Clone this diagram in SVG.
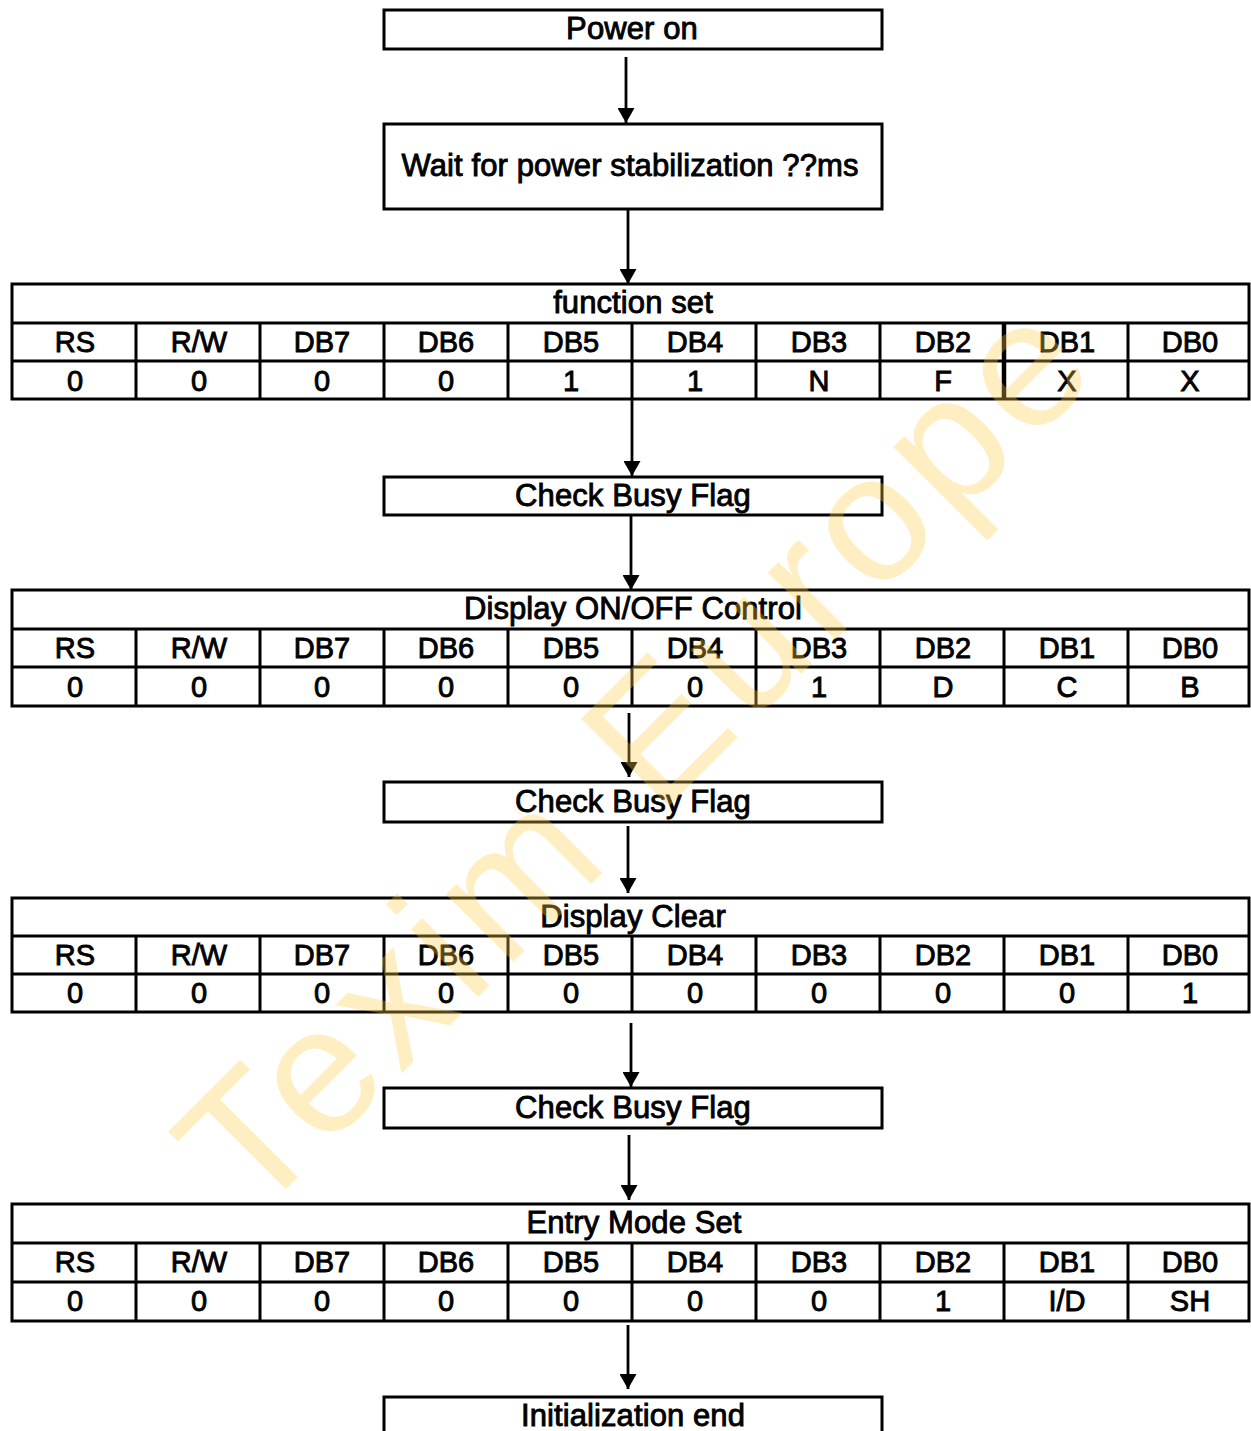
<svg xmlns="http://www.w3.org/2000/svg" width="1251" height="1431" viewBox="0 0 1251 1431">
<style>
.box{fill:#fff;stroke:#000;stroke-width:3}
.ln{stroke:#000;stroke-width:3;fill:none}
.t{font-family:"Liberation Sans",Arial,sans-serif;font-size:31px;fill:#000;text-anchor:middle;stroke:#000;stroke-width:0.9;letter-spacing:0.1px}
.c{font-family:"Liberation Sans",Arial,sans-serif;font-size:29px;fill:#000;text-anchor:middle;stroke:#000;stroke-width:0.9}
.conn{stroke:#000;stroke-width:2.8;fill:none}
.wm{font-family:"Liberation Sans",Arial,sans-serif;font-size:180px;fill:#FFCC44;fill-opacity:0.33}
</style>
<defs>
<marker id="ah" viewBox="0 0 15 17" refX="15" refY="8.5" markerWidth="15" markerHeight="17" markerUnits="userSpaceOnUse" orient="auto">
<path d="M0,0 L15,8.5 L0,17 Z" fill="#000"/>
</marker>
</defs>
<rect width="1251" height="1431" fill="#fff"/>

<g id="connectors">
<line class="conn" x1="626" y1="57" x2="626" y2="123" marker-end="url(#ah)"/>
<line class="conn" x1="628" y1="209" x2="628" y2="284" marker-end="url(#ah)"/>
<line class="conn" x1="632" y1="399" x2="632" y2="476" marker-end="url(#ah)"/>
<line class="conn" x1="631" y1="515" x2="631" y2="590" marker-end="url(#ah)"/>
<line class="conn" x1="629" y1="713" x2="629" y2="777" marker-end="url(#ah)"/>
<line class="conn" x1="628" y1="826" x2="628" y2="893" marker-end="url(#ah)"/>
<line class="conn" x1="631" y1="1023" x2="631" y2="1087" marker-end="url(#ah)"/>
<line class="conn" x1="629" y1="1135" x2="629" y2="1200" marker-end="url(#ah)"/>
<line class="conn" x1="628" y1="1325" x2="628" y2="1389" marker-end="url(#ah)"/>
</g>

<g id="power-on">
<rect class="box" x="384" y="10" width="498" height="39"/>
<text class="t" x="632" y="39">Power on</text>
</g>

<g id="wait-power">
<rect class="box" x="384" y="124" width="498" height="85"/>
<text class="t" x="630" y="176">Wait for power stabilization ??ms</text>
</g>

<g id="function-set">
<rect class="box" x="12" y="284" width="1237" height="115"/>
<path class="ln" d="M12,323 H1249 M12,361 H1249 M136,323 V399 M260,323 V399 M384,323 V399 M508,323 V399 M632,323 V399 M756,323 V399 M880,323 V399 M1128,323 V399"/>
<path class="ln" style="stroke-width:4.5" d="M1004,323 V399"/>
<text class="t" x="633" y="313">function set</text>
<text class="c" y="352"><tspan x="75">RS</tspan><tspan x="199">R/W</tspan><tspan x="322">DB7</tspan><tspan x="446">DB6</tspan><tspan x="571">DB5</tspan><tspan x="695">DB4</tspan><tspan x="819">DB3</tspan><tspan x="943">DB2</tspan><tspan x="1067">DB1</tspan><tspan x="1190">DB0</tspan></text>
<text class="c" y="391"><tspan x="75">0</tspan><tspan x="199">0</tspan><tspan x="322">0</tspan><tspan x="446">0</tspan><tspan x="571">1</tspan><tspan x="695">1</tspan><tspan x="819">N</tspan><tspan x="943">F</tspan><tspan x="1067">X</tspan><tspan x="1190">X</tspan></text>
</g>

<g id="check-busy-1">
<rect class="box" x="384" y="477" width="498" height="38"/>
<text class="t" x="633" y="506">Check Busy Flag</text>
</g>

<g id="display-onoff">
<rect class="box" x="12" y="590" width="1237" height="116"/>
<path class="ln" d="M12,629 H1249 M12,667 H1249 M136,629 V706 M260,629 V706 M384,629 V706 M508,629 V706 M632,629 V706 M756,629 V706 M880,629 V706 M1004,629 V706 M1128,629 V706"/>
<text class="t" x="633" y="619">Display ON/OFF Control</text>
<text class="c" y="658"><tspan x="75">RS</tspan><tspan x="199">R/W</tspan><tspan x="322">DB7</tspan><tspan x="446">DB6</tspan><tspan x="571">DB5</tspan><tspan x="695">DB4</tspan><tspan x="819">DB3</tspan><tspan x="943">DB2</tspan><tspan x="1067">DB1</tspan><tspan x="1190">DB0</tspan></text>
<text class="c" y="697"><tspan x="75">0</tspan><tspan x="199">0</tspan><tspan x="322">0</tspan><tspan x="446">0</tspan><tspan x="571">0</tspan><tspan x="695">0</tspan><tspan x="819">1</tspan><tspan x="943">D</tspan><tspan x="1067">C</tspan><tspan x="1190">B</tspan></text>
</g>

<g id="check-busy-2">
<rect class="box" x="384" y="782" width="498" height="40"/>
<text class="t" x="633" y="812">Check Busy Flag</text>
</g>

<g id="display-clear">
<rect class="box" x="12" y="898" width="1237" height="114"/>
<path class="ln" d="M12,936 H1249 M12,974 H1249 M136,936 V1012 M260,936 V1012 M384,936 V1012 M508,936 V1012 M632,936 V1012 M756,936 V1012 M880,936 V1012 M1004,936 V1012 M1128,936 V1012"/>
<text class="t" x="633" y="927">Display Clear</text>
<text class="c" y="965"><tspan x="75">RS</tspan><tspan x="199">R/W</tspan><tspan x="322">DB7</tspan><tspan x="446">DB6</tspan><tspan x="571">DB5</tspan><tspan x="695">DB4</tspan><tspan x="819">DB3</tspan><tspan x="943">DB2</tspan><tspan x="1067">DB1</tspan><tspan x="1190">DB0</tspan></text>
<text class="c" y="1003"><tspan x="75">0</tspan><tspan x="199">0</tspan><tspan x="322">0</tspan><tspan x="446">0</tspan><tspan x="571">0</tspan><tspan x="695">0</tspan><tspan x="819">0</tspan><tspan x="943">0</tspan><tspan x="1067">0</tspan><tspan x="1190">1</tspan></text>
</g>

<g id="check-busy-3">
<rect class="box" x="384" y="1088" width="498" height="40"/>
<text class="t" x="633" y="1118">Check Busy Flag</text>
</g>

<g id="entry-mode-set">
<rect class="box" x="12" y="1204" width="1237" height="117"/>
<path class="ln" d="M12,1243 H1249 M12,1282 H1249 M136,1243 V1321 M260,1243 V1321 M384,1243 V1321 M508,1243 V1321 M632,1243 V1321 M756,1243 V1321 M880,1243 V1321 M1004,1243 V1321 M1128,1243 V1321"/>
<text class="t" x="634" y="1233">Entry Mode Set</text>
<text class="c" y="1272"><tspan x="75">RS</tspan><tspan x="199">R/W</tspan><tspan x="322">DB7</tspan><tspan x="446">DB6</tspan><tspan x="571">DB5</tspan><tspan x="695">DB4</tspan><tspan x="819">DB3</tspan><tspan x="943">DB2</tspan><tspan x="1067">DB1</tspan><tspan x="1190">DB0</tspan></text>
<text class="c" y="1311"><tspan x="75">0</tspan><tspan x="199">0</tspan><tspan x="322">0</tspan><tspan x="446">0</tspan><tspan x="571">0</tspan><tspan x="695">0</tspan><tspan x="819">0</tspan><tspan x="943">1</tspan><tspan x="1067">I/D</tspan><tspan x="1190">SH</tspan></text>
</g>

<g id="init-end">
<rect class="box" x="384" y="1397" width="498" height="50"/>
<text class="t" x="633" y="1426">Initialization end</text>
</g>

<text class="wm" transform="translate(253,1222) rotate(-45)" textLength="1198" lengthAdjust="spacing">Texim Europe</text>
</svg>
